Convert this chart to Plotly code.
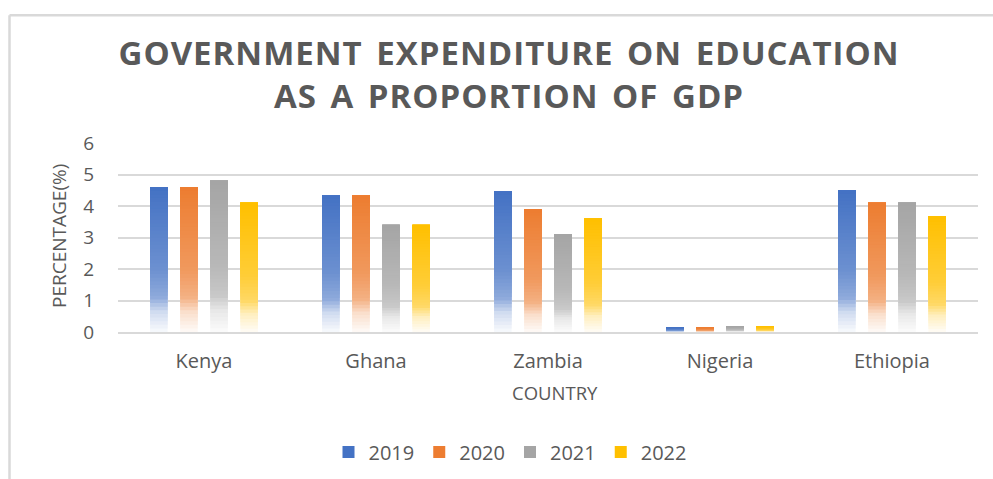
import plotly.graph_objects as go

countries = ["Kenya", "Ghana", "Zambia", "Nigeria", "Ethiopia"]
years = ["2019", "2020", "2021", "2022"]
v2019 = [4.6, 4.33, 4.46, 0.14, 4.5]
v2020 = [4.6, 4.33, 3.9, 0.14, 4.1]
v2021 = [4.8, 3.4, 3.1, 0.18, 4.1]
v2022 = [4.1, 3.4, 3.6, 0.18, 3.68]
series = [v2019, v2020, v2021, v2022]
colors = ["#4472C4", "#ED7D31", "#A5A5A5", "#FFC000"]

# gradient stops: (fraction from top, amount of white)
stops = [(0.0, 0.0), (0.57, 0.22), (0.76, 0.40), (0.86, 0.75), (1.0, 0.97)]
N = 40


def hex2rgb(h):
    h = h.lstrip("#")
    return [int(h[i:i + 2], 16) for i in (0, 2, 4)]


def whiten(t):
    for (t0, w0), (t1, w1) in zip(stops[:-1], stops[1:]):
        if t0 <= t <= t1:
            return w0 + (w1 - w0) * (t - t0) / (t1 - t0)
    return stops[-1][1]


def shade(c, t):
    r, g, b = hex2rgb(c)
    w = whiten(t)
    return "rgb(%d,%d,%d)" % (r + (255 - r) * w, g + (255 - g) * w, b + (255 - b) * w)


fig = go.Figure()
for yi, (yr, vals, col) in enumerate(zip(years, series, colors)):
    for k in range(N):
        frac = k / N
        t = 1 - (k + 0.5) / N
        bases = [v * frac for v in vals]
        lens = [v - b for v, b in zip(vals, bases)]
        fig.add_trace(go.Bar(
            x=countries, y=lens, base=bases, name=yr,
            offsetgroup=yr, legendgroup=yr,
            showlegend=(k == N - 1),
            marker=dict(color=shade(col, t) if k < N - 1 else col, line=dict(width=0)),
            hoverinfo="skip",
        ))

gray = "#595959"
font = "Open Sans"
L, R, T, B = 118, 15, 143, 147
W, H = 993, 479
pw, ph = W - L - R, H - T - B


def px(x):
    return (x - L) / pw


def py(y):
    return (H - B - y) / ph


sp = '<span style="letter-spacing:1px;word-spacing:4px">'
title_text = (sp + "GOVERNMENT EXPENDITURE ON EDUCATION</span><br>"
              + sp + "AS A PROPORTION OF GDP</span>")

fig.update_layout(
    width=W, height=H,
    margin=dict(l=L, r=R, t=T, b=B, autoexpand=False),
    paper_bgcolor="white", plot_bgcolor="white",
    barmode="group", bargap=0.30, bargroupgap=0.42,
    font=dict(family=font, color=gray),
    title=dict(
        text=title_text,
        font=dict(family=font, size=33, color=gray, weight=700),
        xref="container", x=509 / W, xanchor="center",
        yref="container", y=1 - 65 / H, yanchor="middle",
    ),
    xaxis=dict(
        showgrid=False, showline=True, linecolor="#D9D9D9", linewidth=2,
        ticks="", tickfont=dict(size=20, color=gray), ticklabelstandoff=10,
    ),
    yaxis=dict(
        range=[0, 6], dtick=1, showgrid=True, gridcolor="#D9D9D9", gridwidth=1.5,
        zeroline=False, showline=False, ticks="",
        tickfont=dict(size=19, color=gray), ticklabelstandoff=23,
    ),
    legend=dict(
        orientation="h", x=px(510), xanchor="center", y=py(452), yanchor="middle",
        font=dict(size=20, color=gray), traceorder="normal",
    ),
    annotations=[
        dict(text="COUNTRY", xref="paper", yref="paper", x=px(555), y=py(392),
             showarrow=False, font=dict(size=18.5, color=gray), xanchor="center", yanchor="middle"),
        dict(text="PERCENTAGE(%)", xref="paper", yref="paper", x=px(59), y=py(236),
             showarrow=False, textangle=-90, font=dict(size=19, color=gray),
             xanchor="center", yanchor="middle"),
    ],
    shapes=[
        dict(type="line", xref="paper", yref="paper", x0=px(9.5), x1=px(1000),
             y0=py(15.3), y1=py(15.3), line=dict(color="#D9D9D9", width=2.5)),
        dict(type="line", xref="paper", yref="paper", x0=px(9.5), x1=px(9.5),
             y0=py(15.3), y1=py(500), line=dict(color="#D9D9D9", width=2.5)),
    ],
)

fig.write_html("out.html")
